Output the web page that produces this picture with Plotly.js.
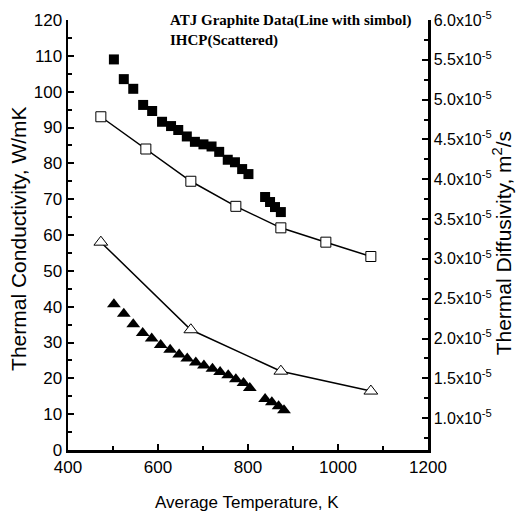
<!DOCTYPE html>
<html>
<head>
<meta charset="utf-8">
<script src="https://cdn.plot.ly/plotly-3.0.1.min.js"></script>
<style>html,body{margin:0;padding:0;background:#fff;}#chart{width:517px;height:517px;}</style>
</head>
<body>
<div id="chart"></div>
<script>
// ATJ graphite data (line with symbol): thermal conductivity, W/mK
const tempCondLine = [473, 573, 673, 773, 873, 973, 1073];
const condLine = [93, 84, 75, 68, 62, 58, 54];

// ATJ graphite data (line with symbol): thermal diffusivity, x1e-5 m2/s
const tempDiffLine = [473, 673, 873, 1073];
const diffLine = [3.21, 2.11, 1.59, 1.34];

// IHCP (scattered): thermal conductivity, W/mK
const tempCondIHCP = [502, 524, 545, 567, 587, 609, 629, 645, 664, 682, 701, 719, 736, 755, 771, 787, 801, 838, 849, 860, 873];
const condIHCP = [109, 103.5, 100.8, 96.3, 94.6, 91.6, 90.4, 89.3, 87.5, 86.0, 85.3, 84.7, 83.2, 81.0, 80.3, 78.4, 77.0, 70.6, 69.2, 67.8, 66.4];

// IHCP (scattered): thermal diffusivity, x1e-5 m2/s
const tempDiffIHCP = [502, 524, 545, 566, 586, 606, 627, 647, 665, 684, 702, 721, 738, 756, 773, 790, 804, 838, 853, 868, 880];
const diffIHCP = [2.43, 2.31, 2.18, 2.07, 2.00, 1.92, 1.86, 1.80, 1.75, 1.70, 1.66, 1.62, 1.58, 1.54, 1.49, 1.44, 1.38, 1.24, 1.20, 1.15, 1.10];

// Right axis tick labels (x1e-5)
const diffTicks = [1.0, 1.5, 2.0, 2.5, 3.0, 3.5, 4.0, 4.5, 5.0, 5.5, 6.0];

const E = 1e-5;
const scale = arr => arr.map(v => v * E);

const traces = [
  {
    x: tempCondLine, y: condLine, type: 'scatter', mode: 'lines+markers',
    line: {color: '#000', width: 1.5},
    marker: {symbol: 'square', size: 10, color: '#fff', line: {color: '#000', width: 1}},
    yaxis: 'y'
  },
  {
    x: tempCondIHCP, y: condIHCP, type: 'scatter', mode: 'markers',
    marker: {symbol: 'square', size: 10, color: '#000'},
    yaxis: 'y'
  },
  {
    x: tempDiffLine, y: scale(diffLine), type: 'scatter', mode: 'lines+markers',
    line: {color: '#000', width: 1.5},
    marker: {symbol: 'triangle-up', size: 12, color: '#fff', line: {color: '#000', width: 1}},
    yaxis: 'y2'
  },
  {
    x: tempDiffIHCP, y: scale(diffIHCP), type: 'scatter', mode: 'markers',
    marker: {symbol: 'triangle-up', size: 12, color: '#000'},
    yaxis: 'y2'
  }
];

const minorDiff = [];
for (let i = 0; i < diffTicks.length - 1; i++) minorDiff.push((diffTicks[i] + diffTicks[i + 1]) / 2 * E);
minorDiff.unshift((diffTicks[0] - 0.25) * E);

const tickFont = {family: 'Liberation Sans, Arial, sans-serif', size: 17, color: '#000'};

const layout = {
  width: 517, height: 517,
  margin: {l: 68, r: 89, t: 20, b: 67, pad: 0},
  paper_bgcolor: '#fff', plot_bgcolor: '#fff',
  showlegend: false,
  font: {family: 'Liberation Sans, Arial, sans-serif', color: '#000'},
  xaxis: {
    range: [400, 1200], tickmode: 'linear', tick0: 400, dtick: 200,
    showgrid: false, zeroline: false, showline: true, linecolor: '#000', linewidth: 2.5,
    ticks: 'inside', ticklen: 6, tickwidth: 2, tickcolor: '#000',
    minor: {dtick: 100, ticks: 'inside', ticklen: 4, tickwidth: 2, tickcolor: '#000'},
    tickfont: tickFont
  },
  yaxis: {
    range: [0, 120], tickmode: 'linear', tick0: 0, dtick: 10,
    showgrid: false, zeroline: false, showline: true, linecolor: '#000', linewidth: 2.5,
    ticks: 'inside', ticklen: 6, tickwidth: 2, tickcolor: '#000',
    minor: {dtick: 5, ticks: 'inside', ticklen: 4, tickwidth: 2, tickcolor: '#000'},
    tickfont: tickFont
  },
  yaxis2: {
    overlaying: 'y', side: 'right', anchor: 'x',
    range: [0.6 * E, 6.0 * E],
    tickmode: 'array', tickvals: scale(diffTicks),
    ticktext: diffTicks.map(v => v.toFixed(1) + 'x10<sup>-5</sup>'),
    showgrid: false, zeroline: false, showline: true, linecolor: '#000', linewidth: 2.5,
    ticks: 'inside', ticklen: 6, tickwidth: 2, tickcolor: '#000',
    minor: {tickmode: 'array', tickvals: minorDiff, ticks: 'inside', ticklen: 4, tickwidth: 2, tickcolor: '#000'},
    tickfont: {family: 'Liberation Sans, Arial, sans-serif', size: 16, color: '#000'}
  },
  annotations: [
    {text: '<b>ATJ Graphite Data(Line with simbol)</b>', xref: 'paper', yref: 'paper', x: 0.278, y: 0.998,
     xanchor: 'left', yanchor: 'middle', showarrow: false,
     font: {family: 'Liberation Serif, Times New Roman, serif', size: 15, color: '#000'}},
    {text: '<b>IHCP(Scattered)</b>', xref: 'paper', yref: 'paper', x: 0.278, y: 0.953,
     xanchor: 'left', yanchor: 'middle', showarrow: false,
     font: {family: 'Liberation Serif, Times New Roman, serif', size: 15, color: '#000'}},
    {text: 'Average Temperature, K', xref: 'paper', yref: 'paper', x: 0.4986, y: -0.123,
     xanchor: 'center', yanchor: 'middle', showarrow: false,
     font: {family: 'Liberation Sans, Arial, sans-serif', size: 17, color: '#000'}},
    {text: 'Thermal Conductivity, W/mK', xref: 'paper', yref: 'paper', x: -0.136, y: 0.491,
     xanchor: 'center', yanchor: 'middle', textangle: -90, showarrow: false,
     font: {family: 'Liberation Sans, Arial, sans-serif', size: 21, color: '#000'}},
    {text: 'Thermal Diffusivity, m<sup>2</sup>/s', xref: 'paper', yref: 'paper', x: 1.206, y: 0.481,
     xanchor: 'center', yanchor: 'middle', textangle: -90, showarrow: false,
     font: {family: 'Liberation Sans, Arial, sans-serif', size: 21, color: '#000'}}
  ]
};

Plotly.newPlot('chart', traces, layout, {displayModeBar: false, staticPlot: true});
</script>
</body>
</html>
